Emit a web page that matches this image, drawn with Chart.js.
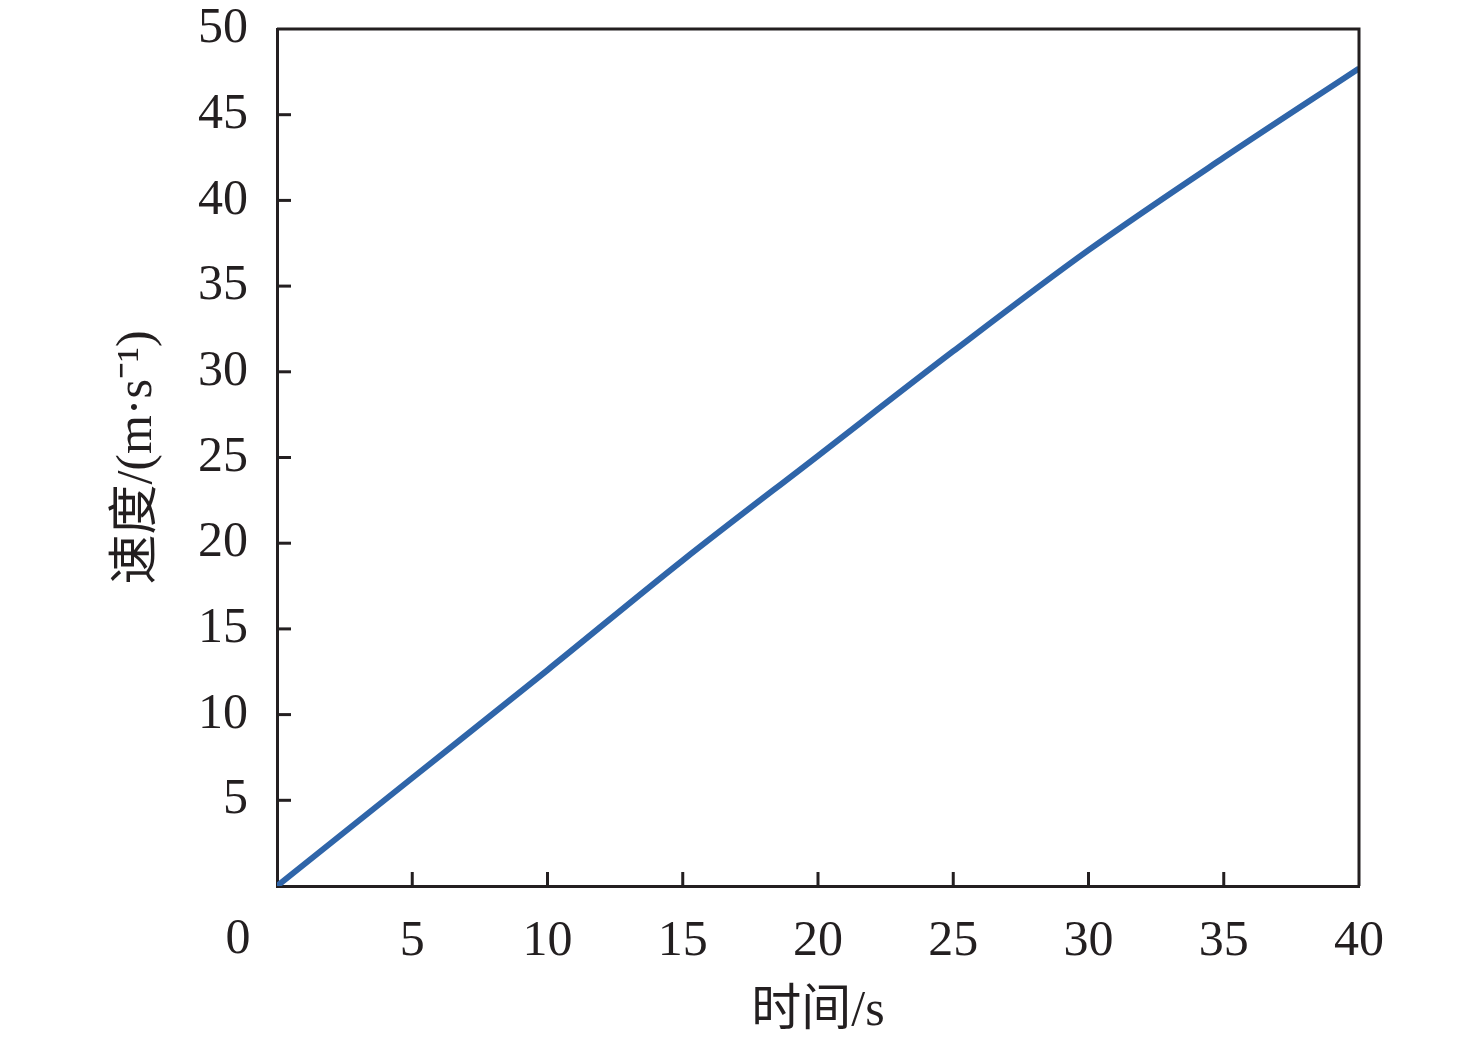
<!DOCTYPE html>
<html>
<head>
<meta charset="utf-8">
<script src="https://cdn.jsdelivr.net/npm/chart.js@4.4.1/dist/chart.umd.min.js"></script>
<style>
  html, body { margin: 0; padding: 0; background: #fff; }
  #wrap { width: 1476px; height: 1044px; }
</style>
</head>
<body>
<div id="wrap"><canvas id="speedChart" width="1476" height="1044"></canvas></div>
<script>
// datos
const timeValues = [0, 5, 10, 15, 20, 25, 30, 35, 40];
const speedValues = [0, 6.3, 12.6, 19.0, 25.1, 31.2, 37.1, 42.5, 47.7];
const xTicks = [0, 5, 10, 15, 20, 25, 30, 35, 40];
const yTicks = [0, 5, 10, 15, 20, 25, 30, 35, 40, 45, 50];
const xTitle = '时间/s';
const yTitle = '速度/(m·s⁻¹)';

const ink = '#231f20';
const fontFamily = '"Liberation Serif", "Times New Roman", "Noto Sans CJK SC", serif';
const fontSize = 50;

// ticks hacia dentro + "0" compartido en la esquina
const innerTicks = {
    id: 'innerTicks',
    afterDraw(chart) {
        const ctx = chart.ctx;
        const xs = chart.scales.x;
        const ys = chart.scales.y;
        const area = chart.chartArea;
        const len = 14;
        ctx.save();
        ctx.strokeStyle = ink;
        ctx.lineWidth = 3;
        xTicks.forEach(v => {
            if (v === xs.min || v === xs.max) return;
            const px = xs.getPixelForValue(v);
            ctx.beginPath();
            ctx.moveTo(px, area.bottom);
            ctx.lineTo(px, area.bottom - len);
            ctx.stroke();
        });
        yTicks.forEach(v => {
            if (v === ys.min || v === ys.max) return;
            const py = ys.getPixelForValue(v);
            ctx.beginPath();
            ctx.moveTo(area.left, py);
            ctx.lineTo(area.left + len, py);
            ctx.stroke();
        });
        // borde superior y derecho
        ctx.beginPath();
        ctx.moveTo(area.left, area.top);
        ctx.lineTo(area.right, area.top);
        ctx.lineTo(area.right, area.bottom);
        ctx.stroke();

        ctx.fillStyle = ink;
        ctx.font = fontSize + 'px ' + fontFamily;
        ctx.textAlign = 'center';
        ctx.textBaseline = 'middle';
        ctx.fillText('0', area.left - 39, area.bottom + 54);
        ctx.restore();
    }
};

const ctx = document.getElementById('speedChart').getContext('2d');
const speedChart = new Chart(ctx, {
    type: 'line',
    data: {
        datasets: [{
            label: '速度',
            data: timeValues.map((t, i) => ({ x: t, y: speedValues[i] })),
            borderColor: '#2f65a9',
            borderWidth: 6,
            pointRadius: 0,
            fill: false,
            cubicInterpolationMode: 'monotone'
        }]
    },
    options: {
        responsive: false,
        animation: false,
        layout: {
            padding: { top: 29, right: 117, left: 0, bottom: 0 }
        },
        plugins: {
            legend: { display: false },
            tooltip: { enabled: false }
        },
        scales: {
            x: {
                type: 'linear',
                min: 0,
                max: 40,
                afterBuildTicks: scale => { scale.ticks = xTicks.map(v => ({ value: v })); },
                afterFit: scale => {
                    scale.height = 158;
                    scale.paddingLeft = 0;
                    scale.paddingRight = 0;
                },
                grid: { display: false, drawTicks: false },
                border: { display: true, color: ink, width: 3 },
                ticks: {
                    color: ink,
                    padding: 26,
                    maxRotation: 0,
                    font: { family: fontFamily, size: fontSize },
                    callback: v => (v === 0 ? '' : v)
                },
                title: {
                    display: true,
                    text: xTitle,
                    color: ink,
                    padding: { top: 0, bottom: 2 },
                    font: { family: fontFamily, size: fontSize }
                }
            },
            y: {
                type: 'linear',
                min: 0,
                max: 50,
                afterBuildTicks: scale => { scale.ticks = yTicks.map(v => ({ value: v })); },
                afterFit: scale => {
                    scale.width = 277;
                    scale.paddingTop = 0;
                    scale.paddingBottom = 0;
                },
                grid: { display: false, drawTicks: false },
                border: { display: true, color: ink, width: 3 },
                ticks: {
                    color: ink,
                    padding: 29,
                    font: { family: fontFamily, size: fontSize },
                    callback: v => (v === 0 ? '' : v)
                },
                title: {
                    display: true,
                    text: yTitle,
                    color: ink,
                    padding: { top: 108, bottom: 0 },
                    font: { family: fontFamily, size: fontSize }
                }
            }
        }
    },
    plugins: [innerTicks]
});
</script>
</body>
</html>
